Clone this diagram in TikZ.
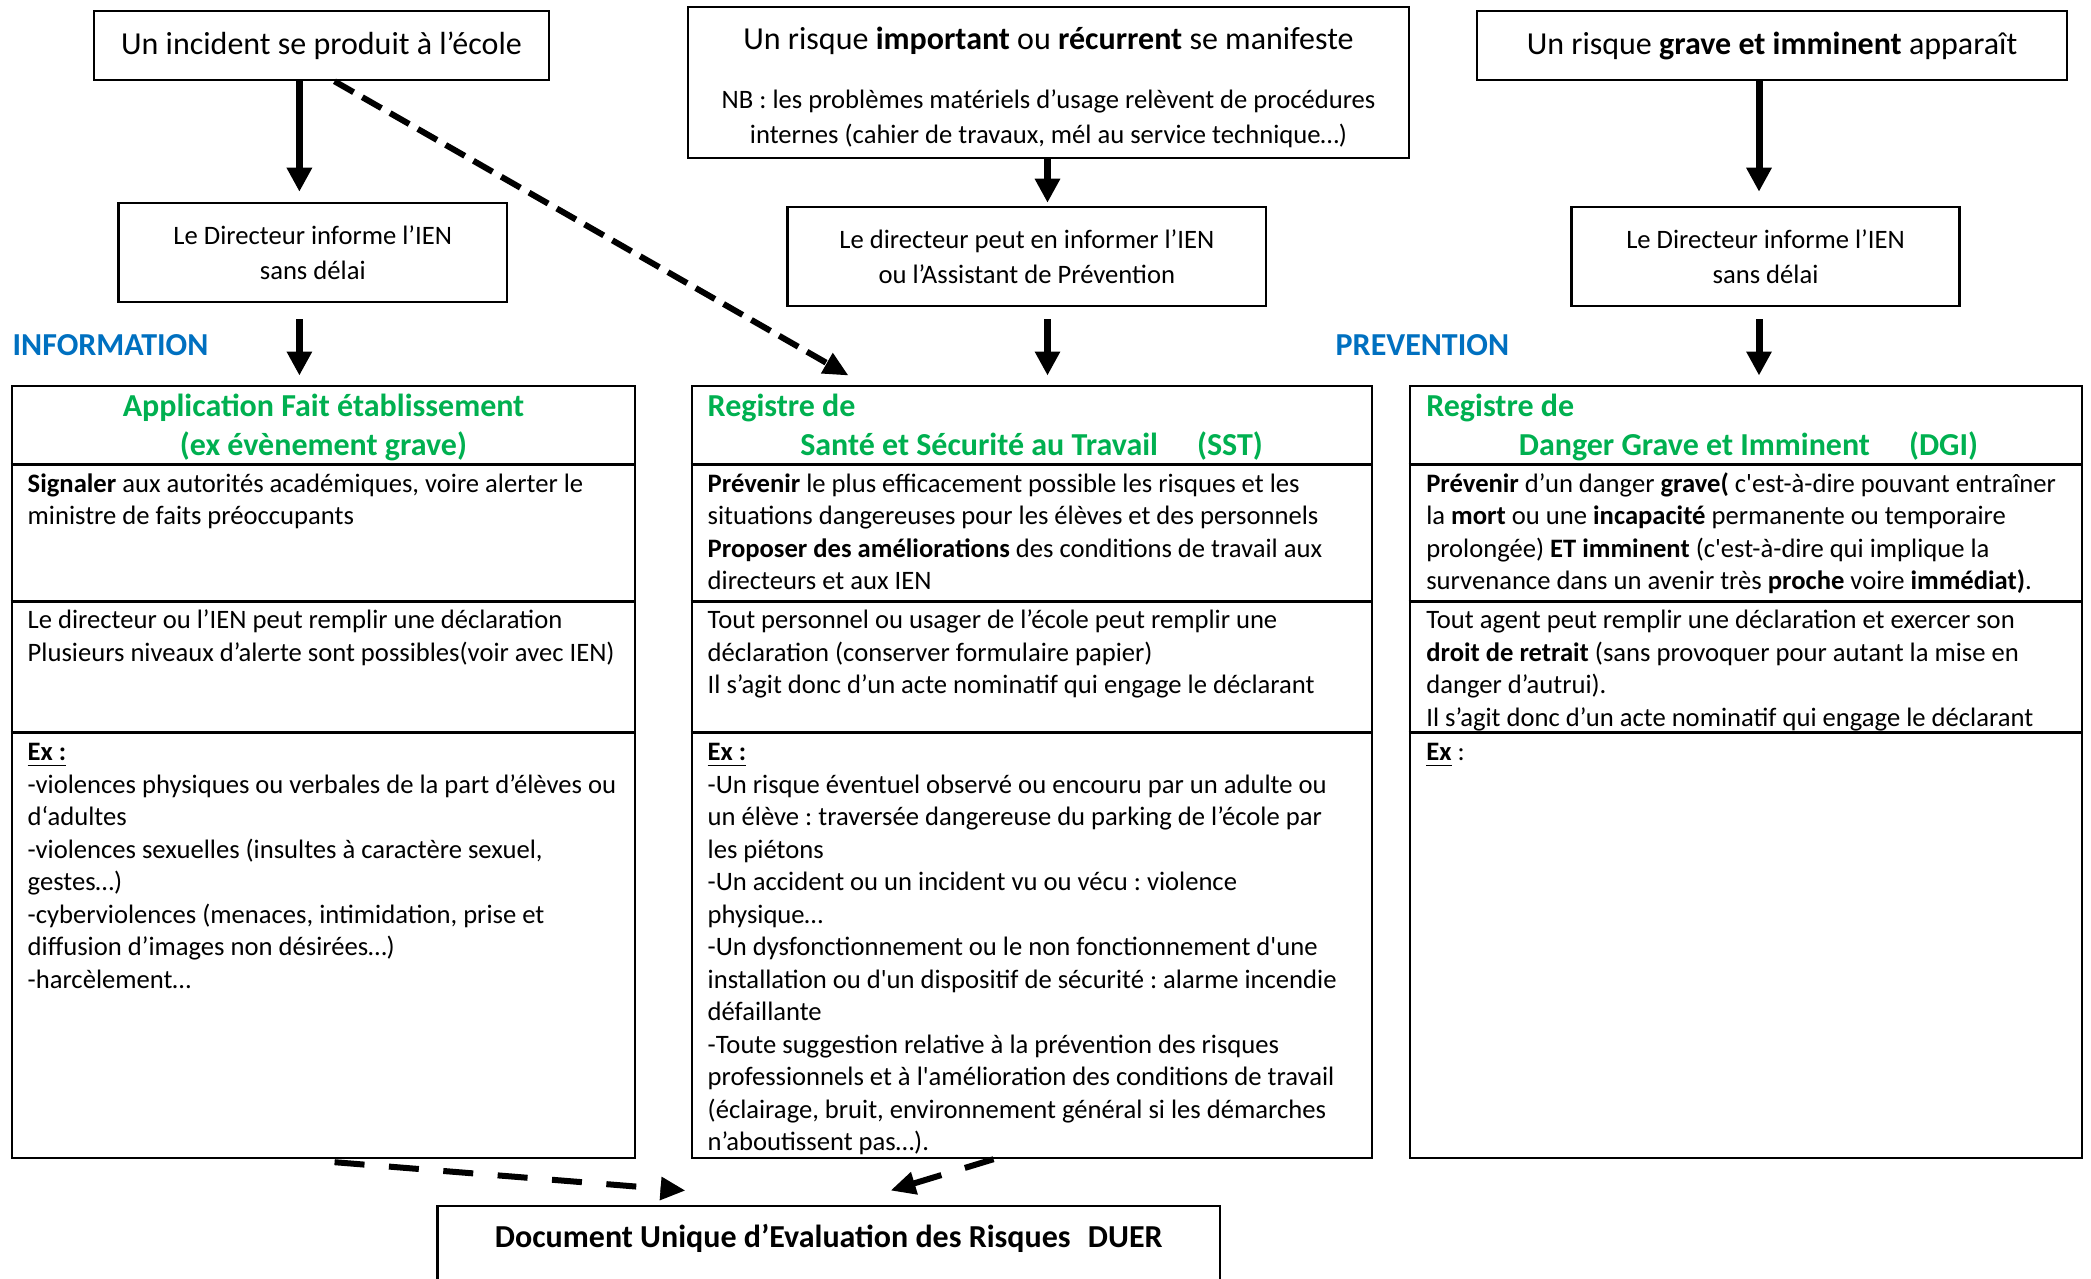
\documentclass[tikz,border=0pt]{standalone}
\usepackage{fontspec}
\setmainfont{Carlito}
\usetikzlibrary{arrows.meta,calc,positioning}
\definecolor{vert}{RGB}{0,176,80}
\definecolor{bleu}{RGB}{0,112,192}
\frenchspacing
\newcommand{\grand}{\fontsize{9.1pt}{10.95pt}\selectfont}
\newcommand{\petit}{\fontsize{7.57pt}{9.25pt}\selectfont}
\newcommand{\moyen}{\fontsize{7.57pt}{9.8pt}\selectfont}
\newcommand{\nbfont}{\fontsize{7.57pt}{9.95pt}\selectfont}
\newcommand{\apos}{\textquotesingle}
\tikzset{
  cadre/.style={draw, line width=0.025cm, inner sep=0pt, align=center},
  trait/.style={line width=0.025cm},
  fleche/.style={line width=0.07cm, -{Triangle[width=0.24cm,length=0.24cm]}},
  tirets/.style={line width=0.06cm, dash pattern=#1, -{Triangle[width=0.22cm,length=0.25cm]}},
  espaces/.style={execute at begin node={\spaceskip=\fontdimen2\font\relax\xspaceskip=\fontdimen2\font\relax}},
  corps/.style={anchor=base west, inner sep=0pt, text width=6.6cm, align=left, font=\petit, espaces},
  titre/.style={inner sep=0pt, text width=6.6cm, font=\grand\bfseries, text=vert, espaces},
  rubrique/.style={anchor=base west, inner sep=0pt, font=\grand\bfseries, text=bleu}
}

\begin{document}
\begin{tikzpicture}[x=0.01cm, y=-0.01cm]
  \useasboundingbox (0,0) rectangle (2091,1278);
  \clip (0,0) rectangle (2091,1278);

  \node[cadre, minimum width=4.55cm, minimum height=0.69cm, font=\grand] (incident) at (321.5,45.5) {Un incident se produit à l’école};
  \node[cadre, minimum width=7.21cm, minimum height=1.51cm] (risque) at (1048.5,82.5) {};
  \node[anchor=base, inner sep=0pt, font=\grand] (risquet) at (1048.5,49) {Un risque \textbf{important} ou \textbf{récurrent} se manifeste};
  \node[anchor=base, inner sep=0pt, text width=7cm, align=center, font=\nbfont, espaces] (nb) at (1048.5,108) {NB : les problèmes matériels d’usage relèvent de procédures\\internes (cahier de travaux, mél au service technique…)};
  \node[cadre, minimum width=5.9cm, minimum height=0.69cm, font=\grand] (grave) at (1772,45.5) {Un risque \textbf{grave et imminent} apparaît};

  \node[cadre, minimum width=3.885cm, minimum height=0.99cm, font=\moyen] (dirA) at (312.75,252.5) {Le Directeur informe l’IEN\\sans délai};
  \node[cadre, minimum width=4.784cm, minimum height=0.99cm, font=\moyen] (dirB) at (1026.8,256.5) {Le directeur peut en informer l’IEN\\ou l’Assistant de Prévention};
  \node[cadre, minimum width=3.881cm, minimum height=0.99cm, font=\moyen] (dirC) at (1765.5,256.5) {Le Directeur informe l’IEN\\sans délai};

  \node[rubrique] (info) at (12,355) {INFORMATION};
  \node[rubrique] (prev) at (1335,355) {PREVENTION};

  \node[cadre, minimum width=6.23cm, minimum height=7.717cm] (fait) at (323.5,771.85) {};
  \node[cadre, minimum width=6.8cm, minimum height=7.717cm] (sst) at (1032,771.85) {};
  \node[cadre, minimum width=6.72cm, minimum height=7.717cm] (dgi) at (1746,771.85) {};
  \foreach \b in {fait,sst,dgi}
    \foreach \y in {464.3,601.7,732.4}
      \draw[trait] (\b.west |- 0,\y) -- (\b.east |- 0,\y);

  \node[cadre, minimum width=7.825cm, minimum height=0.942cm] (duer) at (828.75,1252.9) {};
  \node[anchor=base, inner sep=0pt, font=\grand\bfseries] (duert) at (828.75,1247) {Document Unique d’Evaluation des Risques\hspace{0.1cm} DUER};

  % titres des registres
  \node[titre, anchor=base, align=center, text width=6cm] (faitt) at (323.5,416.7) {Application Fait établissement\\(ex évènement grave)};
  \node[titre, anchor=base west, align=left] (sstt) at (707,416.7) {Registre de\\\hspace*{0.925cm}Santé et Sécurité au Travail\hspace{0.39cm}(SST)};
  \node[titre, anchor=base west, align=left] (dgit) at (1425.6,416.7) {Registre de\\\hspace*{0.925cm}Danger Grave et Imminent\hspace{0.39cm}(DGI)};

  \node[corps] (fait1) at (27,492) {\textbf{Signaler} aux autorités académiques, voire alerter le\\ministre de faits préoccupants};
  \node[corps] (fait2) at (27,628.5) {Le directeur ou l’IEN peut remplir une déclaration\\Plusieurs niveaux d’alerte sont possibles(voir avec IEN)};
  \node[corps] (fait3) at (27,760.5) {\underline{\textbf{Ex :}}\\-violences physiques ou verbales de la part d’élèves ou\\d‘adultes\\-violences sexuelles (insultes à caractère sexuel,\\gestes…)\\-cyberviolences (menaces, intimidation, prise et\\diffusion d’images non désirées…)\\-harcèlement…};

  \node[corps] (sst1) at (707,492) {\textbf{Prévenir} le plus efficacement possible les risques et les\\situations dangereuses pour les élèves et des personnels\\\textbf{Proposer des améliorations} des conditions de travail aux\\directeurs et aux IEN};
  \node[corps] (sst2) at (707,628.5) {Tout personnel ou usager de l’école peut remplir une\\déclaration (conserver formulaire papier)\\Il s’agit donc d’un acte nominatif qui engage le déclarant};
  \node[corps] (sst3) at (707,760.5) {\underline{\textbf{Ex :}}\\-Un risque éventuel observé ou encouru par un adulte ou\\un élève : traversée dangereuse du parking de l’école par\\les piétons\\-Un accident ou un incident vu ou vécu : violence\\physique…\\-Un dysfonctionnement ou le non fonctionnement d\apos une\\installation ou d\apos un dispositif de sécurité : alarme incendie\\défaillante\\-Toute suggestion relative à la prévention des risques\\professionnels et à l\apos amélioration des conditions de travail\\(éclairage, bruit, environnement général si les démarches\\n’aboutissent pas…).};

  \node[corps] (dgi1) at (1425.6,492) {\textbf{Prévenir} d’un danger \textbf{grave(} c\apos est-à-dire pouvant entraîner\\la \textbf{mort} ou une \textbf{incapacité} permanente ou temporaire\\prolongée) \textbf{ET imminent} (c\apos est-à-dire qui implique la\\survenance dans un avenir très \textbf{proche} voire \textbf{immédiat)}.};
  \node[corps] (dgi2) at (1425.6,628.5) {Tout agent peut remplir une déclaration et exercer son\\\textbf{droit de retrait} (sans provoquer pour autant la mise en\\danger d’autrui).\\Il s’agit donc d’un acte nominatif qui engage le déclarant};
  \node[corps] (dgi3) at (1425.6,760.5) {\underline{\textbf{Ex}} :};

  \coordinate (xa) at (299.4,0);
  \coordinate (xb) at (1047.5,0);
  \coordinate (xc) at (1759,0);
  \draw[fleche, shorten >=0.1cm] (incident.south -| xa) -- (dirA.north -| xa);
  \draw[fleche, shorten <=0.16cm, shorten >=0.09cm] (dirA.south -| xa) -- (fait.north -| xa);
  \draw[fleche, shorten >=0.03cm] (risque.south -| xb) -- (dirB.north -| xb);
  \draw[fleche, shorten <=0.12cm, shorten >=0.09cm] (dirB.south -| xb) -- (sst.north -| xb);
  \draw[fleche, shorten >=0.14cm] (grave.south -| xc) -- (dirC.north -| xc);
  \draw[fleche, shorten <=0.12cm, shorten >=0.09cm] (dirC.south -| xc) -- (dgi.north -| xc);

  \draw[tirets={on 0.22cm off 0.1cm}] ($(incident.south)+(13,0)$) -- ($(sst.north west)+(158,-9)$);
  \draw[tirets={on 0.3cm off 0.245cm}] ($(fait.south west)+(324,3)$) -- ($(duer.north west)+(249.5,-14)$);
  \draw[tirets={on 0.3cm off 0.245cm}] ($(sst.south west)+(303,0)$) -- ($(duer.north west)+(454.5,-14)$);
\end{tikzpicture}
\end{document}
